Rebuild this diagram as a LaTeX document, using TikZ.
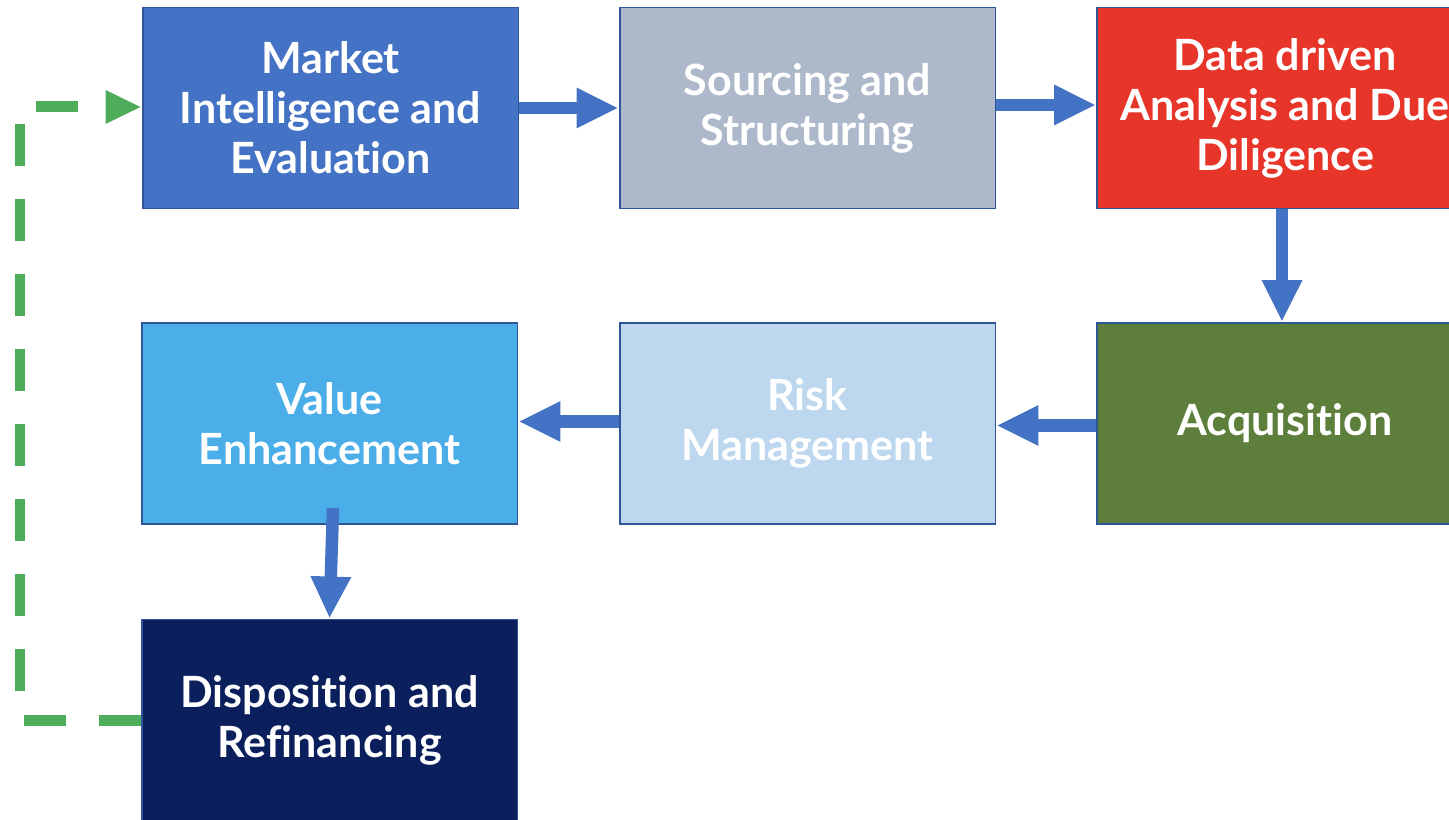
\documentclass[tikz,border=0pt]{standalone}
\usepackage{fontspec}
\setmainfont{Lato}[Ligatures={NoCommon,NoRare,NoContextual}, Contextuals=NoAlternate]
\usetikzlibrary{arrows.meta}

\definecolor{mktblue}{HTML}{4472C4}
\definecolor{srcgray}{HTML}{ADB9CA}
\definecolor{ddred}{HTML}{E8352A}
\definecolor{acqgreen}{HTML}{5E7E3B}
\definecolor{riskblue}{HTML}{BDD7EE}
\definecolor{valblue}{HTML}{4BAEE9}
\definecolor{dispnavy}{HTML}{0A1F5B}
\definecolor{edgeblue}{HTML}{2F5597}
\definecolor{flowblue}{HTML}{4472C4}
\definecolor{loopgreen}{HTML}{4EAD5B}

\tikzset{
  box/.style={draw=edgeblue, line width=1.1pt, minimum width=7.52cm, minimum height=4.02cm,
    align=center, text=white, font=\fontsize{24.5}{28.5}\selectfont\bfseries},
  flow/.style={draw=flowblue, line width=0.25cm, -{Triangle[width=0.75cm,length=0.84cm]}},
  loop/.style={draw=loopgreen, line width=0.22cm, dash pattern=on 0.84cm off 0.66cm,
    -{Triangle[width=0.62cm,length=0.72cm]}}
}

\begin{document}
\begin{tikzpicture}[x=0.02cm, y=-0.02cm]
  \useasboundingbox (0,0) rectangle (1449,820);
  \clip (0,0) rectangle (1449,820);

  % Boxes
  \node[box, fill=mktblue]   (market)   at (330.5,108) {Market\\Intelligence and\\Evaluation};
  \node[box, fill=srcgray]   (sourcing) at (807.5,108) {Sourcing and\\Structuring};
  \node[box, fill=ddred]     (data)     at (1285,108)  {Data driven\\Analysis and Due\\Diligence};
  \node[box, fill=acqgreen]  (acq)      at (1285,423.5) {Acquisition};
  \node[box, fill=riskblue]  (risk)     at (807.5,423.5) {Risk\\Management};
  \node[box, fill=valblue]   (value)    at (329.5,423.5) {Value\\Enhancement};
  \node[box, fill=dispnavy]  (disp)     at (329.5,720) {Disposition and\\Refinancing};

  % Arrows
  \draw[flow] (market.east) -- (sourcing.west);
  \draw[flow] ([yshift=0.06cm]sourcing.east) -- ([yshift=0.06cm]data.west);
  \draw[flow] ([xshift=-0.06cm]data.south) -- ([xshift=-0.06cm]acq.north);
  \draw[flow] ([yshift=-0.04cm]acq.west) -- ([yshift=-0.04cm]risk.east);
  \draw[flow] ([yshift=0.04cm]risk.west) -- ([yshift=0.04cm]value.west -| value.east);
  \draw[flow] ([shift={(3.5,-17)}]value.south) -- (disp.north);

  % Loop back
  \coordinate (lowcorner) at (20,720);
  \coordinate (topcorner) at (20,107);
  \draw[loop] (disp.west) -- (lowcorner) -- (topcorner) -- (topcorner -| market.west);
\end{tikzpicture}
\end{document}
